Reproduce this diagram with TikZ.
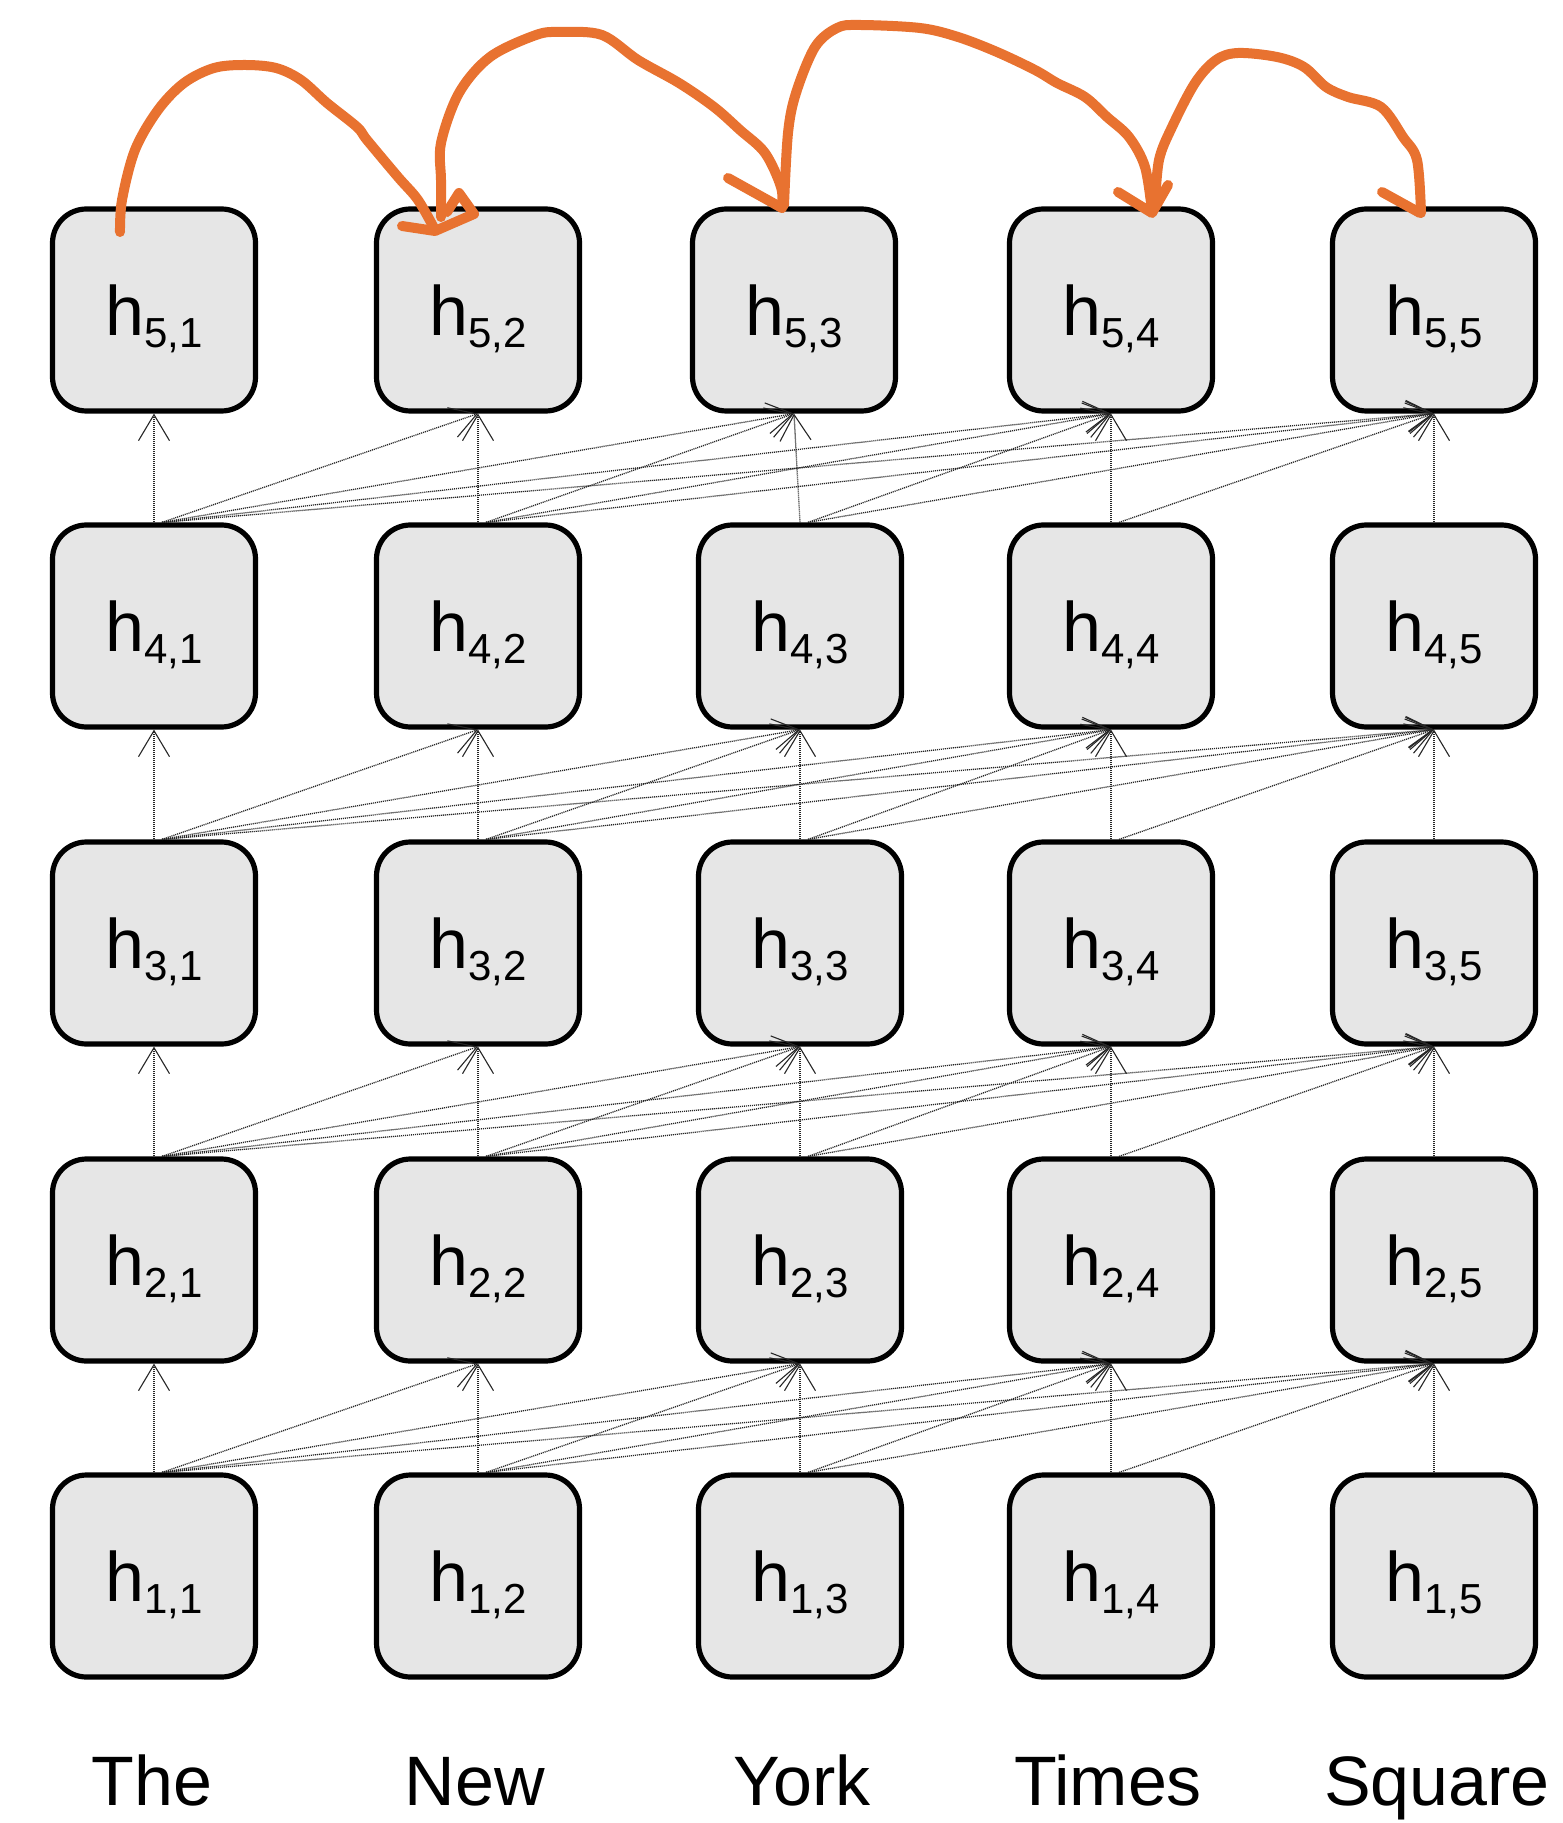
\documentclass[tikz,border=0pt]{standalone}
\usepackage{fontspec}
\setmainfont{Liberation Sans}
\usetikzlibrary{arrows.meta}
\definecolor{boxfill}{RGB}{230,230,230}
\definecolor{annot}{RGB}{232,114,48}
\newcommand\hlab[2]{\raisebox{-4.5pt}[\height][\depth]{h\raisebox{-6pt}{\fontsize{21}{21}\selectfont #1,#2}}}
\begin{document}
\begin{tikzpicture}[x=0.5pt,y=-0.5pt,
  cell/.style={draw=black, line width=2.6pt, fill=boxfill, rounded corners=17pt,
    minimum width=101.5pt, minimum height=101pt, inner sep=0pt,
    font=\fontsize{35}{40}\selectfont},
  word/.style={anchor=base, inner sep=0pt, font=\fontsize{35}{40}\selectfont},
  link/.style={draw=black!85, line width=0.65pt, dash pattern=on 0.55pt off 0.45pt,
    -{Straight Barb[length=13pt,width=15.5pt,line width=0.55pt]}},
  hand/.style={draw=annot, line width=5pt, line cap=round, line join=round}]
\useasboundingbox (0,0) rectangle (1562,1823);

% nodes, rows 1-4
\foreach \l/\y in {1/1576,2/1260,3/943,4/626}
  \foreach \j/\x in {1/154,2/478,3/800,4/1111,5/1434}
    \node[cell] (h\l\j) at (\x,\y) {\hlab{\l}{\j}};
% row 5
\node[cell] (h51) at (154,310) {\hlab{5}{1}};
\node[cell] (h52) at (478,310) {\hlab{5}{2}};
\node[cell] (h53) at (794,310) {\hlab{5}{3}};
\node[cell] (h54) at (1111,310) {\hlab{5}{4}};
\node[cell] (h55) at (1434,310) {\hlab{5}{5}};

% words
\node[word] (w1) at (152,1805) {The};
\node[word] (w2) at (475,1805) {New};
\node[word] (w3) at (802,1805) {York};
\node[word] (w4) at (1108,1805) {Times};
\node[word] (w5) at (1437,1805) {Square};

% connections
\foreach \l [evaluate=\l as \m using int(\l+1)] in {1,...,4}
  \foreach \j in {1,...,5}
    \foreach \k in {\j,...,5} {
      \ifnum\k=\j
        \draw[link] (h\l\j.north) -- (h\m\k.south);
      \else
        \draw[link] ([xshift=4pt]h\l\j.north) -- (h\m\k.south);
      \fi
    }

% hand-drawn orange arcs
\draw[hand] plot[smooth, tension=0.55] coordinates {(120,232) (122,200) (135,150) (158,110) (184,83) (214,68) (245,65) (276,68) (301,80) (327,103) (357,127) (367,140) (398,177) (418,200) (435,230)};
\draw[hand] (402,226) -- (435,231) -- (474,214) -- (459,193) -- (447,212);

\draw[hand] plot[smooth, tension=0.55] coordinates {(441,217) (441,180) (441,143) (459,93) (490,57) (536,35) (561,32) (602,35) (638,60) (679,83) (714,107) (740,130) (765,153) (781,187) (782,208)};
\draw[hand] (728,178) -- (782,208);

\draw[hand] plot[smooth, tension=0.55] coordinates {(784,205) (788,133) (796,93) (815,47) (837,28) (859,25) (920,28) (958,37) (997,52) (1035,70) (1057,83) (1085,97) (1107,117) (1129,137) (1145,167) (1152,212)};
\draw[hand] (1118,192) -- (1152,213) -- (1168,185);

\draw[hand] plot[smooth, tension=0.55] coordinates {(1155,205) (1159,160) (1172,127) (1195,83) (1216,60) (1238,53) (1277,57) (1304,67) (1326,87) (1348,97) (1381,107) (1403,137) (1417,160) (1421,213)};
\draw[hand] (1382,192) -- (1420,213);
\end{tikzpicture}
\end{document}
